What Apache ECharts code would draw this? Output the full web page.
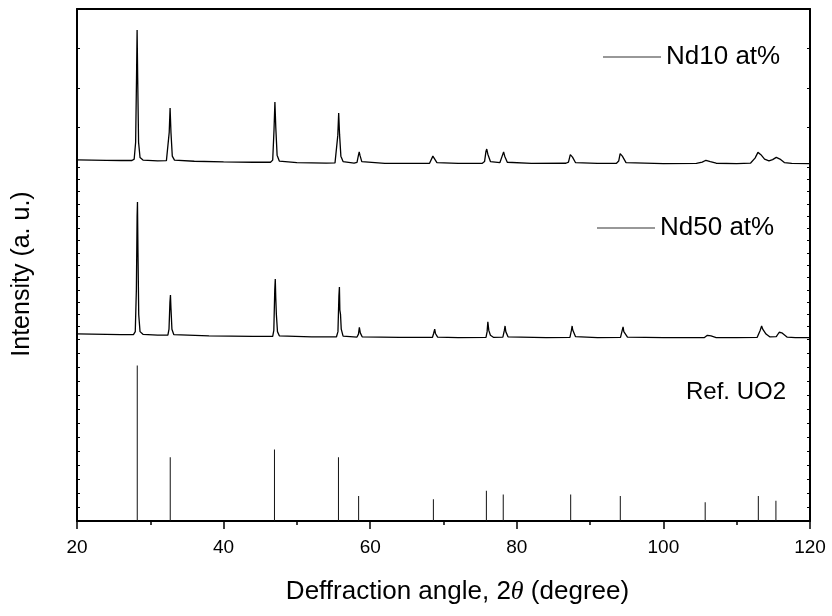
<!DOCTYPE html>
<html><head><meta charset="utf-8">
<script src="https://cdn.jsdelivr.net/npm/echarts@6/dist/echarts.min.js"></script>
<style>html,body{margin:0;padding:0;background:#fff}#c{width:832px;height:616px}</style>
</head><body><div id="c"></div>
<script>
// X-ray diffraction patterns, [2theta, intensity (a.u.)]
const nd10 = [
[20,72],[22,70],[24,68],[26,66],[27.5,66],
[27.8,80],[28.0,250],[28.12,900],[28.2,1388],[28.28,900],[28.4,250],[28.6,95],[29.0,70],
[31,62],[32.2,64],
[32.4,80],[32.58,350],[32.7,598],[32.82,350],[33.0,110],[33.3,70],
[36,58],[40,52],[44,48],[46.4,48],
[46.7,70],[46.88,380],[47.0,658],[47.12,400],[47.3,120],[47.6,60],
[50,44],[54,40],[55.2,42],
[55.4,60],[55.58,320],[55.7,547],[55.82,330],[56.0,110],[56.3,55],
[57.8,40],
[58.2,48],[58.4,120],[58.5,152],[58.6,120],[58.85,55],
[62,36],[66,36],[68.1,38],
[68.35,48],[68.55,110],[68.65,122],[68.8,90],[69.1,45],
[72,36],[75.3,38],
[75.6,55],[75.8,160],[75.9,182],[76.05,130],[76.4,55],
[77.7,45],[78.0,110],[78.2,152],[78.35,110],[78.7,48],
[82,36],[86.7,38],
[87.05,50],[87.3,125],[87.4,142],[87.6,100],[88.0,45],
[91,36],[93.6,38],
[93.9,60],[94.1,135],[94.2,152],[94.4,110],[94.9,45],
[100,35],[104.5,37],
[105.3,50],[105.8,68],[106.0,71],[106.4,55],[107.2,38],
[110,35],[111.9,40],[112.5,90],[112.9,148],[113.0,152],[113.3,125],[113.8,80],[114.4,62],
[114.9,75],[115.4,98],[115.6,101],[115.9,80],[116.5,45],[117.5,36],[120,35]
];
const nd50 = [
[20,42],[22,40],[24,38],[26,36],[27.7,35],
[27.95,60],[28.1,400],[28.2,1000],[28.25,1115],[28.32,700],[28.42,200],[28.6,60],[29.0,38],
[31,32],[32.4,32],
[32.55,80],[32.68,300],[32.75,358],[32.82,250],[32.95,80],[33.2,36],
[38,26],[44,22],[46.7,22],
[46.85,70],[46.98,400],[47.05,488],[47.12,330],[47.2,200],[47.35,60],[47.6,26],
[52,18],[55.4,18],
[55.6,60],[55.73,350],[55.8,423],[55.86,236],[55.95,200],[56.05,80],[56.3,24],
[58.2,16],[58.4,40],[58.52,95],[58.55,98],[58.65,50],[58.9,18],
[64,14],[68.5,14],
[68.65,45],[68.8,81],[68.9,45],[69.2,15],
[72,12],[75.8,14],
[75.95,60],[76.05,140],[76.1,155],[76.18,70],[76.25,60],[76.4,30],[76.8,14],
[78.1,15],[78.3,70],[78.4,106],[78.5,60],[78.8,18],
[84,12],[87.25,14],
[87.45,70],[87.55,106],[87.62,75],[87.7,60],[88.0,20],
[91,12],[94.15,14],
[94.38,70],[94.5,98],[94.6,60],[94.7,50],[95.1,16],
[100,11],[105.6,12],
[106.0,30],[106.2,41],[106.5,25],[107.2,12],
[110,11],[112.8,14],
[113.2,70],[113.4,106],[113.55,80],[113.7,70],[114.0,40],[114.5,18],[115.4,20],
[115.8,55],[116.0,65],[116.15,50],[116.4,40],[116.9,15],[118,11],[120,11]
];
// Reference UO2 pattern (stick lines)
const refAngles    = [28.22, 32.72, 46.94, 55.67, 58.42, 68.62, 75.85, 78.15, 87.35, 94.12, 105.7, 112.95, 115.35];
const refIntensity = [100,   41,    46,    41,    16,    14,    19.5,  17,    17,    16,    12,    16,     13];
const seriesNames = ['Nd10 at%', 'Nd50 at%', 'Ref. UO2'];
const xRange = [20, 120];
const xInterval = 20;

const refData = refAngles.map((a, i) => [a, refIntensity[i]]);

const FONT = '"Liberation Sans", Arial, Helvetica, sans-serif';
const chart = echarts.init(document.getElementById('c'), null, {renderer: 'canvas'});

const panelY = (grid, max, interval, pos) => ({
  gridIndex: grid, type: 'value', min: 0, max: max, interval: interval, position: pos,
  axisLine: {show: false},
  axisTick: {show: true, inside: true, length: 3, lineStyle: {color: '#000', width: 1}},
  axisLabel: {show: false}, splitLine: {show: false}
});
const panelX = (grid) => ({gridIndex: grid, type: 'value', min: xRange[0], max: xRange[1], show: false});

chart.setOption({
  animation: false,
  backgroundColor: '#fff',
  textStyle: {fontFamily: FONT, color: '#000'},
  grid: [
    {left: 77, right: 22, top: 9, height: 512},
    {left: 77, right: 22, top: 9, height: 158},
    {left: 77, right: 22, top: 167, height: 172},
    {left: 77, right: 22, top: 339, height: 182}
  ],
  xAxis: [
    {
      gridIndex: 0, type: 'value', min: xRange[0], max: xRange[1], interval: xInterval, position: 'bottom',
      axisLine: {onZero: false, lineStyle: {color: '#000', width: 2}},
      axisTick: {show: true, inside: false, length: 8, lineStyle: {color: '#000', width: 1.5}},
      minorTick: {show: true, splitNumber: 2, length: 4, lineStyle: {color: '#000', width: 1.5}},
      axisLabel: {fontSize: 19, color: '#000', margin: 17, fontFamily: FONT},
      splitLine: {show: false},
      name: 'Deffraction angle, 2{i|θ} (degree)',
      nameLocation: 'middle', nameGap: 58,
      nameTextStyle: {fontSize: 26, color: '#000', fontFamily: FONT, padding: [0, 0, 0, 28],
        rich: {i: {fontStyle: 'italic', fontFamily: '"Liberation Serif", "Times New Roman", serif', fontSize: 26, color: '#000'}}}
    },
    {
      gridIndex: 0, type: 'value', min: xRange[0], max: xRange[1], position: 'top',
      axisLine: {onZero: false, lineStyle: {color: '#000', width: 2}},
      axisTick: {show: false}, axisLabel: {show: false}, splitLine: {show: false}
    },
    panelX(1), panelX(2), panelX(3)
  ],
  yAxis: [
    {
      gridIndex: 0, type: 'value', min: 0, max: 1, position: 'left',
      axisLine: {show: true, onZero: false, lineStyle: {color: '#000', width: 2}},
      axisTick: {show: false}, axisLabel: {show: false}, splitLine: {show: false},
      name: 'Intensity (a. u.)', nameLocation: 'middle', nameGap: 42, nameRotate: 90,
      nameTextStyle: {fontSize: 25, color: '#000', fontFamily: FONT, padding: [0, 18, 0, 0]}
    },
    {
      gridIndex: 0, type: 'value', min: 0, max: 1, position: 'right',
      axisLine: {show: true, onZero: false, lineStyle: {color: '#000', width: 2}},
      axisTick: {show: false}, axisLabel: {show: false}, splitLine: {show: false}
    },
    panelY(1, 1600, 400, 'left'), panelY(1, 1600, 400, 'right'),
    panelY(2, 1400, 100, 'left'), panelY(2, 1400, 100, 'right'),
    panelY(3, 117, 9, 'left'), panelY(3, 117, 9, 'right')
  ],
  legend: [
    {data: [seriesNames[0]], left: 603, top: 44, padding: 0, icon: 'rect', itemWidth: 58, itemHeight: 1,
     itemStyle: {color: '#333'}, selectedMode: false, textStyle: {fontSize: 26, color: '#000', fontFamily: FONT}},
    {data: [seriesNames[1]], left: 597, top: 215, padding: 0, icon: 'rect', itemWidth: 58, itemHeight: 1,
     itemStyle: {color: '#333'}, selectedMode: false, textStyle: {fontSize: 26, color: '#000', fontFamily: FONT}},
    {data: [seriesNames[2]], left: 680, top: 380, padding: 0, itemWidth: 1, itemHeight: 1,
     itemStyle: {opacity: 0}, selectedMode: false, textStyle: {fontSize: 24, color: '#000', fontFamily: FONT}}
  ],
  series: [
    {name: seriesNames[0], type: 'line', xAxisIndex: 2, yAxisIndex: 2, data: nd10,
     symbol: 'none', showSymbol: false, color: '#000', lineStyle: {color: '#000', width: 1.3}},
    {name: seriesNames[1], type: 'line', xAxisIndex: 3, yAxisIndex: 4, data: nd50,
     symbol: 'none', showSymbol: false, color: '#000', lineStyle: {color: '#000', width: 1.3}},
    {name: seriesNames[2], type: 'bar', xAxisIndex: 4, yAxisIndex: 6, data: refData,
     barWidth: 1, itemStyle: {color: '#111'}}
  ]
});
</script>
</body></html>
